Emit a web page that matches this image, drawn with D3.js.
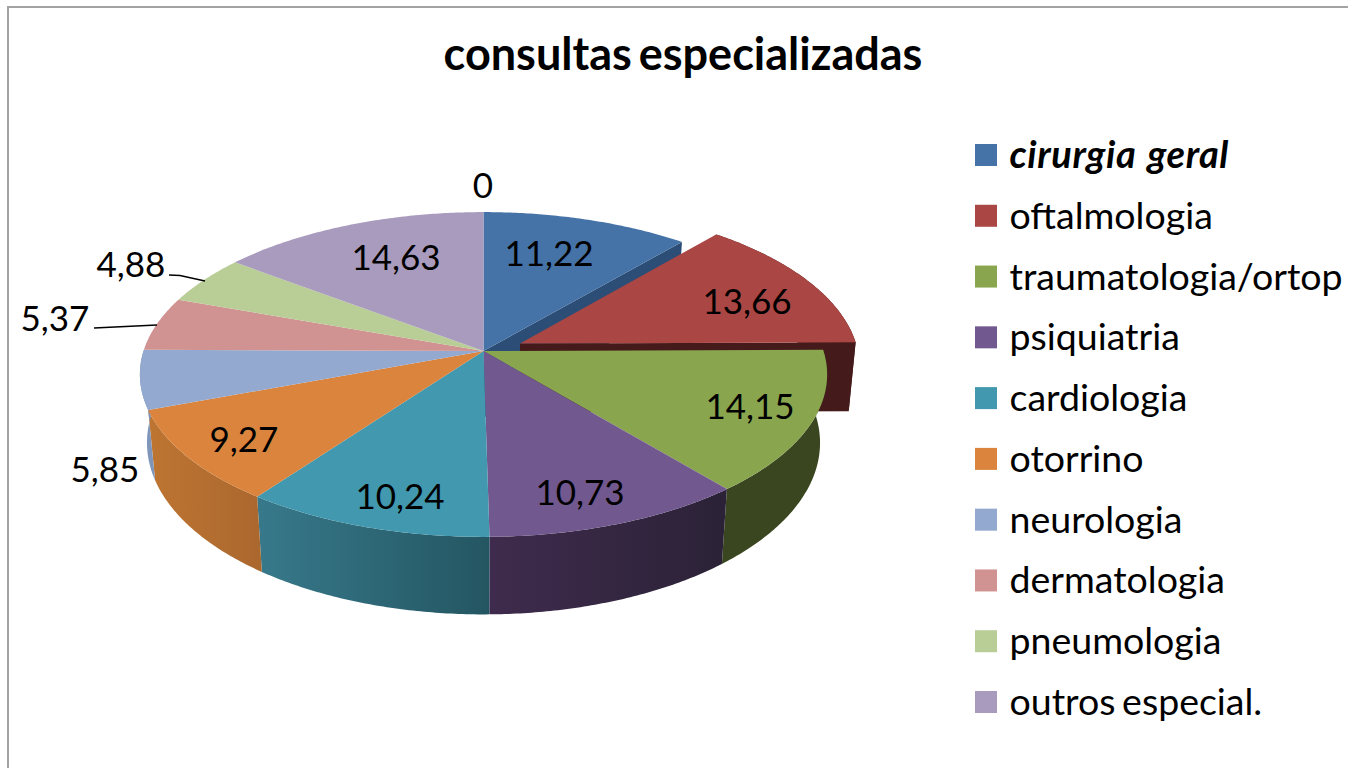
<!DOCTYPE html>
<html>
<head>
<meta charset="utf-8">
<title>consultas especializadas</title>
<script src="https://cdn.jsdelivr.net/npm/d3@7"></script>
<style>
  html, body { margin: 0; padding: 0; background: #fff; overflow: hidden; }
  text { font-family: Lato, "Open Sans", sans-serif; fill: #000; }
</style>
</head>
<body>
<svg class="chart"></svg>
<script>
var categories = ['cirurgia geral', 'oftalmologia', 'traumatologia/ortop', 'psiquiatria', 'cardiologia',
  'otorrino', 'neurologia', 'dermatologia', 'pneumologia', 'outros especial.'];
var values = [11.22, 13.66, 14.15, 10.73, 10.24, 9.27, 5.85, 5.37, 4.88, 14.63];
var zeroValue = 0;
var topColors = ['#4572a7', '#aa4643', '#89a54e', '#71588f', '#4198af', '#db843d', '#93a9cf', '#d19392', '#b9cd96', '#a99bbd'];
var wallLeft = ['#2c4d75', '#451a1a', '#3a4620', '#3f2b4d', '#37798b', '#be7532', '#7f96ba', '#b07d7c', '#9db07f', '#8f83a0'];
var wallRight = ['#2c4d75', '#451a1a', '#3a4620', '#2b2237', '#245662', '#aa672e', '#7f96ba', '#b07d7c', '#9db07f', '#8f83a0'];

var width = 1348, height = 768;
// where the value labels sit, in slice order
var labelPos = [[549, 254], [747, 302], [750, 407], [580, 493], [400, 497], [244, 440], [105, 470], [55, 319], [131, 265], [396, 258]];

var svg = d3.select('.chart').attr('width', width).attr('height', height);

// frame, only top and left show in the picture
svg.append('path')
    .attr('d', 'M8,768V7H1348')
    .attr('fill', 'none')
    .attr('stroke', '#a3a3a3')
    .attr('stroke-width', 2);

svg.append('text')
    .attr('x', 683)
    .attr('y', 70)
    .attr('text-anchor', 'middle')
    .attr('font-size', 45)
    .attr('font-weight', 700)
    .attr('word-spacing', -4)
    .text('consultas especializadas');

// tilted disc, the far side is foreshortened
var persp = 0.1446;
var rings = {
  top: { cy: 351, rx: 340, ry: 159 },
  bottom: { cy: 418, rx: 333, ry: 168 },
  explodedBottom: { cy: 420, rx: 333, ry: 168 }
};
var cx = 483.5;

function project(angle, r, ring, offset, shrink) {
  var u = r * Math.sin(angle), v = r * Math.cos(angle), w = 1 + persp * v;
  return [
    cx + offset[0] + ring.rx * shrink * u / w,
    ring.cy + offset[1] - ring.ry * v / w
  ];
}

function arcPoints(a0, a1, ring, offset, shrink) {
  var n = Math.max(2, Math.ceil(Math.abs(a1 - a0) / 0.01));
  return d3.range(n + 1).map(function(i) {
    return project(a0 + (a1 - a0) * i / n, 1, ring, offset, shrink);
  });
}

var line = d3.line();
var pie = d3.pie().sort(null);
var slices = pie(values);
var none = [0, 0];
var explode = [36.5, -7.5], explodeShrink = 336 / 340;

var defs = svg.append('defs');
slices.forEach(function(d, i) {
  var g = defs.append('linearGradient').attr('id', 'wall' + i);
  g.append('stop').attr('offset', '0%').attr('stop-color', wallLeft[i]);
  g.append('stop').attr('offset', '100%').attr('stop-color', wallRight[i]);
});

function drawCut(angle, i, offset, shrink, lower) {
  var pts = [
    project(angle, 0, rings.top, offset, shrink),
    project(angle, 1, rings.top, offset, shrink),
    project(angle, 1, lower, offset, shrink),
    project(angle, 0, lower, offset, shrink)
  ];
  svg.append('path').attr('d', line(pts) + 'Z').attr('fill', wallLeft[i]);
}

function drawWall(d, i, offset, shrink, lower) {
  var pts = arcPoints(d.startAngle, d.endAngle, rings.top, offset, shrink)
    .concat(arcPoints(d.endAngle, d.startAngle, lower, offset, shrink));
  svg.append('path').attr('d', line(pts) + 'Z').attr('fill', 'url(#wall' + i + ')');
}

function drawTop(d, i, offset, shrink) {
  var pts = [project(d.startAngle, 0, rings.top, offset, shrink)]
    .concat(arcPoints(d.startAngle, d.endAngle, rings.top, offset, shrink));
  svg.append('path').attr('d', line(pts) + 'Z').attr('fill', topColors[i]);
}

// back to front: blue cut, exploded slice walls, near side walls, then the faces
drawCut(slices[0].endAngle, 0, none, 1, rings.bottom);
drawCut(slices[1].endAngle, 1, explode, explodeShrink, rings.explodedBottom);
drawWall(slices[1], 1, explode, explodeShrink, rings.explodedBottom);
[2, 3, 4, 5, 6].forEach(function(i) { drawWall(slices[i], i, none, 1, rings.bottom); });

slices.forEach(function(d, i) {
  if (i == 1) {
    drawTop(d, i, explode, explodeShrink);
  } else {
    drawTop(d, i, none, 1);
  }
});

// leader lines for the two small slices
svg.append('path').attr('d', 'M169,275L180,275.5L205,281').attr('fill', 'none').attr('stroke', '#000').attr('stroke-width', 1.5);
svg.append('path').attr('d', 'M94,328L157,325').attr('fill', 'none').attr('stroke', '#000').attr('stroke-width', 1.5);

function labelText(v) {
  return String(v).replace('.', ',');
}

svg.selectAll('.value')
    .data(values)
  .enter().append('text')
    .attr('class', 'value')
    .attr('x', function(d, i) { return labelPos[i][0]; })
    .attr('y', function(d, i) { return labelPos[i][1] + 12; })
    .attr('text-anchor', 'middle')
    .attr('font-size', 35)
    .text(labelText);

svg.append('text')
    .attr('x', 483)
    .attr('y', 198)
    .attr('text-anchor', 'middle')
    .attr('font-size', 35)
    .text(labelText(zeroValue));

// legend
var legendY = d3.scalePoint().domain(categories).range([155, 702]);

var legend = svg.selectAll('.legend')
    .data(categories)
  .enter().append('g')
    .attr('class', 'legend')
    .attr('transform', function(d) { return 'translate(975,' + legendY(d) + ')'; });

legend.append('rect')
    .attr('y', -11)
    .attr('width', 22)
    .attr('height', 22)
    .attr('fill', function(d, i) { return topColors[i]; });

legend.append('text')
    .attr('x', 34.5)
    .attr('y', 13)
    .attr('font-size', function(d, i) { return i == 0 ? 38 : 37.5; })
    .attr('font-weight', function(d, i) { return i == 0 ? 700 : 400; })
    .attr('font-style', function(d, i) { return i == 0 ? 'italic' : 'normal'; })
    .attr('letter-spacing', function(d, i) { return i == 0 ? 0.6 : 0; })
    .attr('word-spacing', function(d, i) { return i == 0 ? 2 : -3; })
    .text(function(d) { return d; });
</script>
</body>
</html>
